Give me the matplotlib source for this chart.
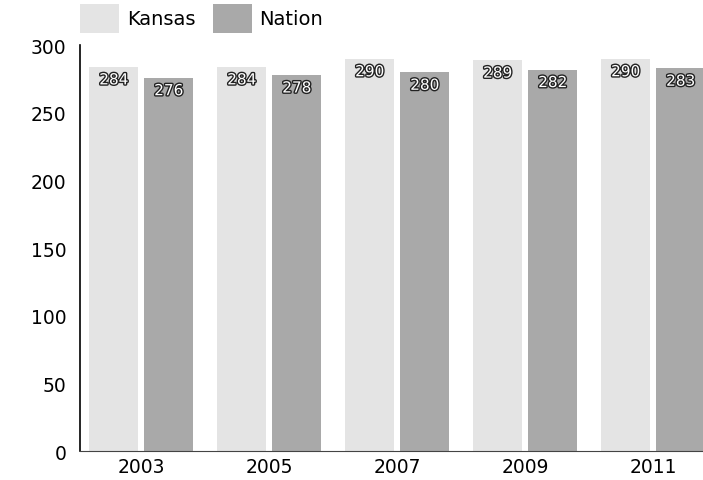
import matplotlib
matplotlib.use('Agg')
import matplotlib.pyplot as plt
import matplotlib.patheffects as pe
import numpy as np

years = ['2003', '2005', '2007', '2009', '2011']
kansas = [284, 284, 290, 289, 290]
nation = [276, 278, 280, 282, 283]
y_ticks = [0, 50, 100, 150, 200, 250, 300]

fig = plt.figure(figsize=(7.03, 4.81), dpi=100)
ax = fig.add_axes([0.114, 0.06, 0.886, 0.844])

x = np.arange(len(years))
w = 0.38
b1 = ax.bar(x - 0.215, kansas, w, color='#e4e4e4', label='Kansas')
b2 = ax.bar(x + 0.215, nation, w, color='#a9a9a9', label='Nation')

# value labels sit just inside the top of each bar
for bars, vals in ((b1, kansas), (b2, nation)):
    for rect, v in zip(bars, vals):
        ax.annotate(str(v), (rect.get_x() + rect.get_width() / 2, v),
                    xytext=(0, -4), textcoords='offset points',
                    ha='center', va='top', fontsize=11, color='white',
                    path_effects=[pe.withStroke(linewidth=2, foreground='#222222')])

ax.set_xlim(-0.477, 4.39)
ax.set_ylim(0, 300)
ax.set_xticks(x)
ax.set_xticklabels(years, fontsize=13.5)
ax.set_yticks(y_ticks)
ax.set_yticklabels([str(t) for t in y_ticks], fontsize=13.5)
ax.tick_params(length=0)
ax.tick_params(axis='y', pad=10)
ax.tick_params(axis='x', pad=4)

for s in ('top', 'right'):
    ax.spines[s].set_visible(False)
ax.spines['left'].set_linewidth(1.2)
ax.spines['bottom'].set_linewidth(0.8)
ax.spines['bottom'].set_color('#444444')

fig.legend(handles=[b1, b2], loc='upper left', bbox_to_anchor=(0.114, 0.99),
           ncol=2, frameon=False, fontsize=14, borderpad=0, borderaxespad=0,
           handlelength=2.0, handleheight=1.9, handletextpad=0.4,
           columnspacing=0.9, prop={'size': 14})

fig.savefig('out.png', dpi=100)
